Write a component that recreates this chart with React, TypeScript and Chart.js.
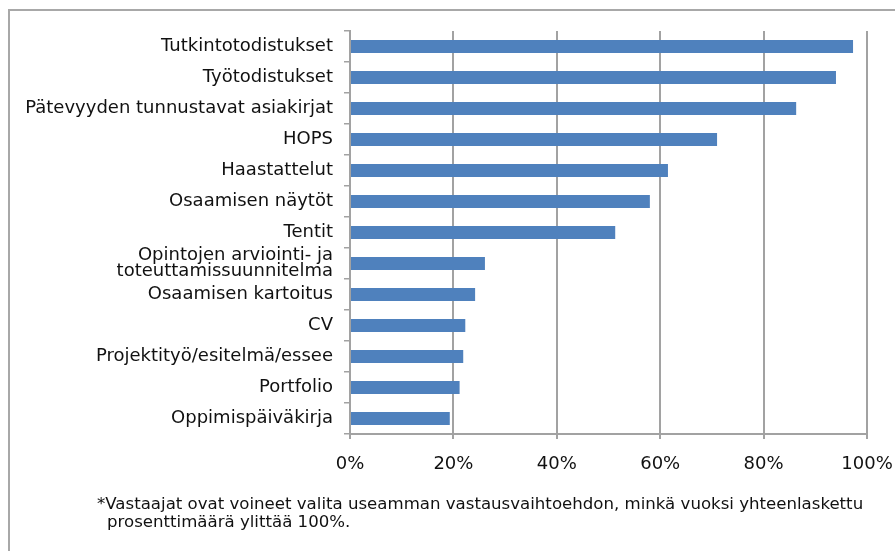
import React, { useEffect, useRef } from "react";
import { Chart, registerables } from "chart.js";

Chart.register(...registerables);

const categories: (string | string[])[] = [
  "Tutkintotodistukset",
  "Työtodistukset",
  "Pätevyyden tunnustavat asiakirjat",
  "HOPS",
  "Haastattelut",
  "Osaamisen näytöt",
  "Tentit",
  ["Opintojen arviointi- ja", "toteuttamissuunnitelma"],
  "Osaamisen kartoitus",
  "CV",
  "Projektityö/esitelmä/essee",
  "Portfolio",
  "Oppimispäiväkirja",
];

const values: number[] = [97.3, 94.0, 86.3, 71.0, 61.5, 58.0, 51.3, 26.1, 24.2, 22.3, 21.9, 21.2, 19.3];

const xTicks: number[] = [0, 20, 40, 60, 80, 100];

const footnoteLines: string[] = [
  "*Vastaajat ovat voineet valita useamman vastausvaihtoehdon, minkä vuoksi yhteenlaskettu",
  "prosenttimäärä ylittää 100%.",
];

const FONT = "'DejaVu Sans', sans-serif";

export default function App() {
  const canvasRef = useRef<HTMLCanvasElement | null>(null);

  useEffect(() => {
    if (!canvasRef.current) return;
    const chart = new Chart(canvasRef.current, {
      type: "bar",
      data: {
        labels: categories,
        datasets: [
          {
            data: values,
            backgroundColor: "#4f81bd",
            borderWidth: 0,
            barPercentage: 0.42,
            categoryPercentage: 1,
          },
        ],
      },
      options: {
        indexAxis: "y",
        animation: false,
        responsive: false,
        maintainAspectRatio: false,
        layout: { padding: { top: 31, right: 28, left: 0, bottom: 0 } },
        plugins: {
          legend: { display: false },
          tooltip: { enabled: false },
          title: { display: false },
        },
        scales: {
          x: {
            type: "linear",
            min: 0,
            max: 100,
            afterBuildTicks: (scale: any) => {
              scale.ticks = xTicks.map((v) => ({ value: v }));
            },
            afterFit: (scale: any) => {
              scale.height = 117;
              scale.paddingLeft = 0;
              scale.paddingRight = 0;
            },
            ticks: {
              callback: (v: any) => v + "%",
              color: "#111111",
              font: { family: FONT, size: 18 },
              padding: 15,
              maxRotation: 0,
            },
            grid: {
              color: "#a2a2a2",
              lineWidth: 2,
              tickLength: 5,
              drawTicks: true,
            },
            border: { display: true, color: "#a2a2a2", width: 2 },
          },
          y: {
            type: "category",
            afterFit: (scale: any) => {
              scale.width = 350;
              scale.paddingTop = 0;
              scale.paddingBottom = 0;
            },
            ticks: {
              color: "#111111",
              font: { family: FONT, size: 18, lineHeight: 0.92 },
              padding: 11,
              autoSkip: false,
            },
            grid: {
              display: true,
              drawOnChartArea: false,
              drawTicks: true,
              tickLength: 6,
              color: "#a2a2a2",
              lineWidth: 1.5,
              offset: true,
            },
            border: { display: true, color: "#a2a2a2", width: 2 },
          },
        },
      },
    });
    return () => chart.destroy();
  }, []);

  const noteStyle: React.CSSProperties = {
    position: "absolute",
    fontFamily: FONT,
    fontSize: 16.6,
    lineHeight: "18px",
    color: "#111111",
    whiteSpace: "nowrap",
  };

  return (
    <div
      style={{
        position: "fixed",
        left: 0,
        top: 0,
        width: 895,
        height: 551,
        background: "#ffffff",
        overflow: "hidden",
      }}
    >
      <div
        style={{
          position: "absolute",
          left: 8,
          top: 9,
          width: 950,
          height: 600,
          borderLeft: "2px solid #a8a8a8",
          borderTop: "2px solid #a8a8a8",
          boxSizing: "border-box",
        }}
      />
      <canvas
        ref={canvasRef}
        width={895}
        height={551}
        style={{ position: "absolute", left: 0, top: 0, width: 895, height: 551 }}
      />
      <div style={{ ...noteStyle, left: 97, top: 495 }}>{footnoteLines[0]}</div>
      <div style={{ ...noteStyle, left: 107, top: 513 }}>{footnoteLines[1]}</div>
    </div>
  );
}
